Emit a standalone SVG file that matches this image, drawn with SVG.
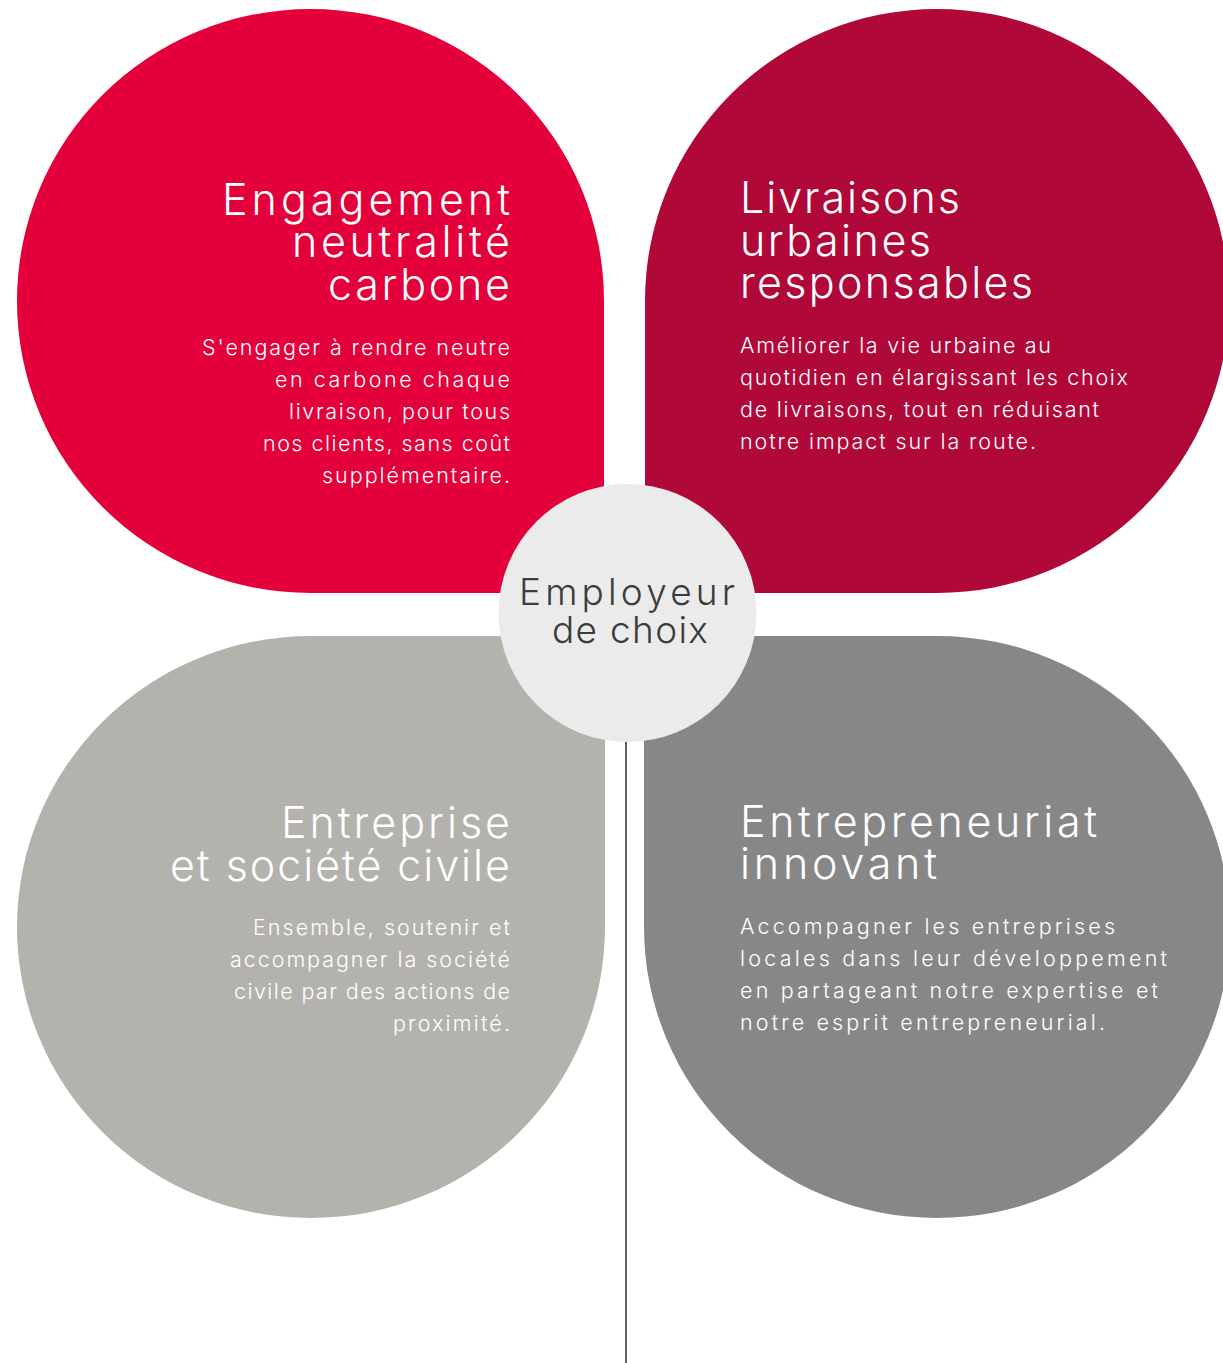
<svg xmlns="http://www.w3.org/2000/svg" width="1223" height="1363" viewBox="0 0 1223 1363">
<style>
text{font-family:Inter,"Open Sans","Liberation Sans",sans-serif;font-weight:300;fill:#fff}
.t{font-size:43px}
.b{font-size:21.5px}
.r{text-anchor:end}
.c{font-size:37px;fill:#3c3c3b;text-anchor:middle}
</style>
<rect width="1223" height="1363" fill="#fff"/>
<g id="petal-engagement">
<path d="M604,593 L310.5,593 A293.5,292 0 0 1 17,301 A293.5,292 0 0 1 310.5,9 A293.5,292 0 0 1 604,301 Z" fill="#e4003a"/>
<text class="t r" x="510" y="215" textLength="288">Engagement</text>
<text class="t r" x="510" y="257" textLength="218">neutralité</text>
<text class="t r" x="510" y="300" textLength="182">carbone</text>
<text class="b r" x="510" y="355" textLength="308">S'engager à rendre neutre</text>
<text class="b r" x="510" y="387" textLength="235">en carbone chaque</text>
<text class="b r" x="510" y="419" textLength="221">livraison, pour tous</text>
<text class="b r" x="510" y="451" textLength="247">nos clients, sans coût</text>
<text class="b r" x="510" y="483" textLength="188">supplémentaire.</text>
</g>
<g id="petal-livraisons">
<path d="M645,593 L645,301 A292,292 0 0 1 937,9 A292,292 0 0 1 1229,301 A292,292 0 0 1 937,593 Z" fill="#b00838"/>
<text class="t" x="740" y="213" textLength="220">Livraisons</text>
<text class="t" x="740" y="256" textLength="191">urbaines</text>
<text class="t" x="740" y="298" textLength="293">responsables</text>
<text class="b" x="740" y="353" textLength="311">Améliorer la vie urbaine au</text>
<text class="b" x="740" y="385" textLength="388">quotidien en élargissant les choix</text>
<text class="b" x="740" y="417" textLength="359">de livraisons, tout en réduisant</text>
<text class="b" x="740" y="449" textLength="296">notre impact sur la route.</text>
</g>
<g id="petal-entreprise">
<path d="M605,636 L605,927 A294,291 0 0 1 311,1218 A294,291 0 0 1 17,927 A294,291 0 0 1 311,636 Z" fill="#b3b2ad"/>
<text class="t r" x="510" y="838" textLength="229">Entreprise</text>
<text class="t r" x="510" y="881" textLength="340">et société civile</text>
<text class="b r" x="510" y="935" textLength="257">Ensemble, soutenir et</text>
<text class="b r" x="510" y="967" textLength="280">accompagner la société</text>
<text class="b r" x="510" y="999" textLength="276">civile par des actions de</text>
<text class="b r" x="510" y="1031" textLength="117">proximité.</text>
</g>
<g id="petal-entrepreneuriat">
<path d="M644,636 L937,636 A293,291 0 0 1 1230,927 A293,291 0 0 1 937,1218 A293,291 0 0 1 644,927 Z" fill="#878787"/>
<text class="t" x="740" y="837" textLength="357">Entrepreneuriat</text>
<text class="t" x="740" y="879" textLength="197">innovant</text>
<text class="b" x="740" y="934" textLength="375">Accompagner les entreprises</text>
<text class="b" x="740" y="966" textLength="427">locales dans leur développement</text>
<text class="b" x="740" y="998" textLength="418">en partageant notre expertise et</text>
<text class="b" x="740" y="1030" textLength="365">notre esprit entrepreneurial.</text>
</g>
<g id="connectors">
<line x1="626" y1="740" x2="626" y2="1363" stroke="#3c3c3b" stroke-width="1.6"/>
</g>
<g id="center-employeur">
<circle cx="627.5" cy="613" r="129" fill="#ebebeb"/>
<text class="c" x="627" y="605" textLength="216">Employeur</text>
<text class="c" x="630" y="643" textLength="156">de choix</text>
</g>
</svg>
